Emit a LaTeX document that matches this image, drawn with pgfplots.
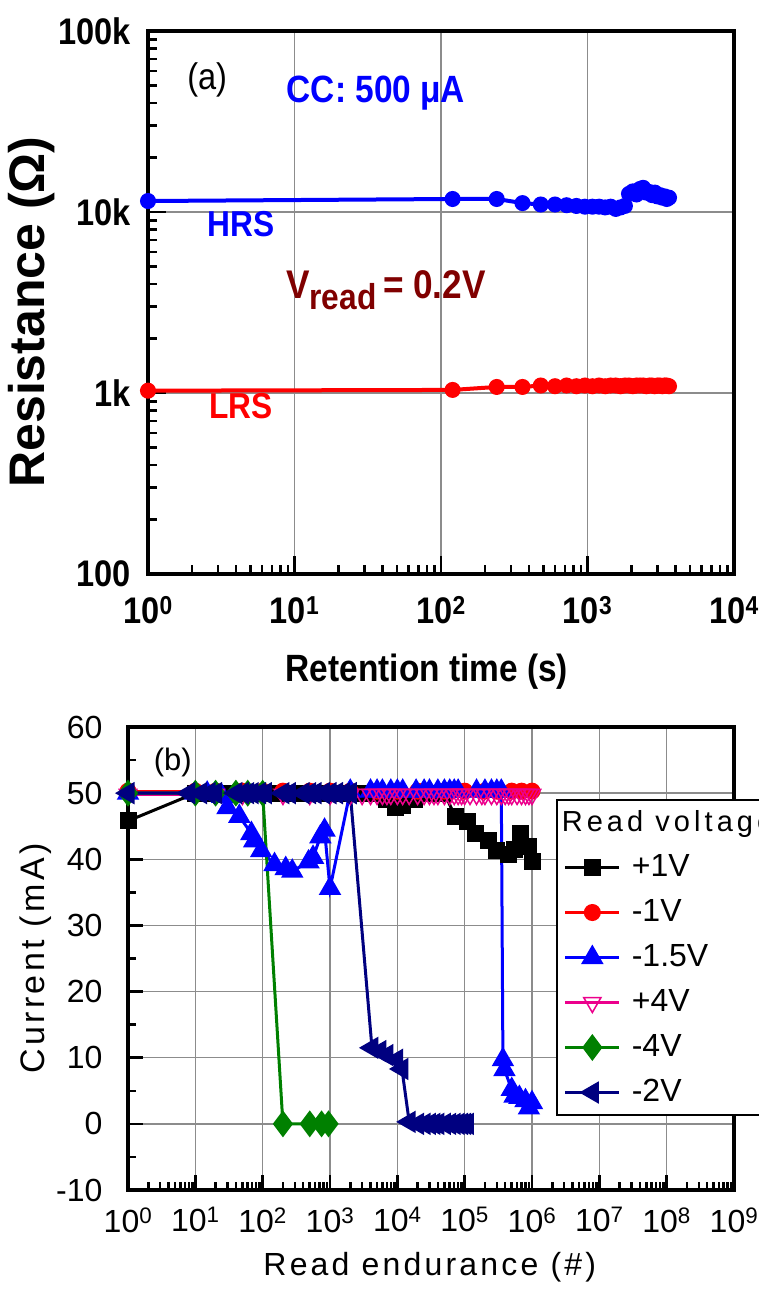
\documentclass[border=0pt]{standalone}
\usepackage{fontspec}
\setmainfont{Liberation Sans}
\newfontfamily\condfont[FakeStretch=0.88]{Liberation Sans}
\newfontfamily\spfont[LetterSpace=10]{Liberation Sans}
\newfontfamily\titlefont[LetterSpace=14]{Liberation Sans}
\usepackage{pgfplots}
\pgfplotsset{compat=1.18}
\definecolor{navyb}{RGB}{0,0,128}
\definecolor{grnb}{RGB}{0,128,0}
\definecolor{maroonb}{RGB}{128,0,0}
\definecolor{gridg}{RGB}{140,140,140}

\begin{document}
\begin{tikzpicture}
\useasboundingbox (0pt,0pt) rectangle (759pt,-1293pt);

% (a) retention
\begin{axis}[
  at={(148pt,-574pt)}, anchor=south west, scale only axis,
  width=586pt, height=543pt,
  xmode=log, ymode=log, xmin=1, xmax=1e4, ymin=100, ymax=1e5,
  xtick={1,10,100,1000,10000},
  xticklabels={10\textsuperscript{0},10\textsuperscript{1},10\textsuperscript{2},10\textsuperscript{3},10\textsuperscript{4}},
  ytick={100,1000,10000,100000}, yticklabels={100,1k,10k,100k},
  minor xtick={2,3,4,5,6,7,8,9,20,30,40,50,60,70,80,90,200,300,400,500,600,700,800,900,2000,3000,4000,5000,6000,7000,8000,9000},
  minor ytick={200,300,400,500,600,700,800,900,2000,3000,4000,5000,6000,7000,8000,9000,20000,30000,40000,50000,60000,70000,80000,90000},
  tick align=inside, tick pos=left, major tick length=18pt, minor tick length=9pt,
  every tick/.append style={black, line width=2.5pt},
  axis line style={line width=4pt},
  grid=major, major grid style={gridg, line width=1.5pt},
  tick label style={font=\condfont\bfseries\fontsize{37}{37}\selectfont},
  xticklabel style={yshift=-19pt},
  yticklabel style={xshift=-14pt},
  xlabel={Retention time (s)},
  ylabel={Resistance (Ω)},
  xlabel style={at={(axis description cs:0.476,-0.180)}, anchor=center, font=\condfont\bfseries\fontsize{38}{38}\selectfont},
  ylabel style={at={(axis description cs:-0.198,0.4825)}, anchor=center, font=\bfseries\fontsize{50}{50}\selectfont},
  clip=false,
]
\addplot[blue, line width=4pt, mark=*, mark size=6pt, mark options={fill=blue}] coordinates {
(1,11500) (120,11800) (240,11800) (360,11200) (480,11000) (600,11000) (720,10900)
(840,10800) (960,10700) (1080,10700) (1200,10700) (1320,10600) (1440,10700) (1560,10400)
(1680,10600) (1800,10800) (1920,12600) (2040,13000) (2160,12500) (2280,13400) (2400,13600)
(2520,12800) (2640,12900) (2760,12400) (2880,12800) (3000,12200) (3120,12400) (3240,12000)
(3360,12200) (3480,11800) (3600,12000)};
\addplot[red, line width=4pt, mark=*, mark size=6pt, mark options={fill=red}] coordinates {
(1,1030) (120,1040) (240,1080) (360,1080) (480,1100) (600,1090) (720,1100) (840,1090)
(960,1100) (1080,1090) (1200,1100) (1320,1090) (1440,1100) (1560,1100) (1680,1090)
(1800,1100) (1920,1100) (2040,1090) (2160,1100) (2280,1100) (2400,1100) (2520,1090)
(2640,1100) (2760,1100) (2880,1090) (3000,1100) (3120,1100) (3240,1090) (3360,1100)
(3480,1100) (3600,1090)};
\node[font=\condfont\fontsize{37}{37}\selectfont] at (axis description cs:0.101,0.910) {(a)};
\node[font=\condfont\bfseries\fontsize{38}{38}\selectfont, text=blue] at (axis description cs:0.389,0.886) {CC: 500 μA};
\node[font=\condfont\bfseries\fontsize{36}{36}\selectfont, text=blue] at (axis description cs:0.159,0.645) {HRS};
\node[font=\condfont\bfseries\fontsize{36}{36}\selectfont, text=red] at (axis description cs:0.159,0.310) {LRS};
\node[font=\condfont\bfseries\fontsize{40}{40}\selectfont, text=maroonb] at (axis description cs:0.406,0.523)
  {V\raisebox{-11pt}{\fontsize{36}{36}\selectfont read}\,= 0.2V};
\end{axis}

% (b) read endurance
\begin{axis}[
  at={(128pt,-1190pt)}, anchor=south west, scale only axis,
  width=606pt, height=463pt,
  xmode=log, xmin=1, xmax=1e9, ymin=-10, ymax=60,
  xtick={1e0,1e1,1e2,1e3,1e4,1e5,1e6,1e7,1e8,1e9},
  xticklabels={10\textsuperscript{0},10\textsuperscript{1},10\textsuperscript{2},10\textsuperscript{3},10\textsuperscript{4},10\textsuperscript{5},10\textsuperscript{6},10\textsuperscript{7},10\textsuperscript{8},10\textsuperscript{9}},
  ytick={-10,0,10,20,30,40,50,60}, yticklabels={-10,0,10,20,30,40,50,60},
  minor ytick={-5,5,15,25,35,45,55},
  minor xtick={2e0,3e0,4e0,5e0,6e0,7e0,8e0,9e0,2e1,3e1,4e1,5e1,6e1,7e1,8e1,9e1,
    2e2,3e2,4e2,5e2,6e2,7e2,8e2,9e2,2e3,3e3,4e3,5e3,6e3,7e3,8e3,9e3,
    2e4,3e4,4e4,5e4,6e4,7e4,8e4,9e4,2e5,3e5,4e5,5e5,6e5,7e5,8e5,9e5,
    2e6,3e6,4e6,5e6,6e6,7e6,8e6,9e6,2e7,3e7,4e7,5e7,6e7,7e7,8e7,9e7,
    2e8,3e8,4e8,5e8,6e8,7e8,8e8,9e8},
  tick align=inside, tick pos=left, major tick length=15pt, minor tick length=8pt,
  every tick/.append style={black, line width=2.5pt},
  axis line style={line width=3.5pt},
  grid=major, major grid style={gridg, line width=1.5pt},
  tick label style={font=\fontsize{32}{32}\selectfont},
  xticklabel style={yshift=-14pt},
  yticklabel style={xshift=-22pt},
  xlabel={Read endurance (\#)},
  ylabel={Current (mA)},
  xlabel style={at={(axis description cs:0.498,-0.166)}, anchor=center, font=\spfont\fontsize{32}{32}\selectfont},
  ylabel style={at={(axis description cs:-0.153,0.5)}, anchor=center, font=\spfont\fontsize{34}{34}\selectfont},
  clip=false,
  legend style={at={(axis description cs:0.706,0.8445)}, anchor=north west,
    draw=black, line width=2pt, inner xsep=7pt, inner ysep=5pt,
    font=\fontsize{32}{32}\selectfont,
    nodes={text height=24pt, text depth=7pt, inner sep=2pt}, row sep=10pt, column sep=9pt},
  legend cell align=left,
  legend image code/.code={\draw[#1, mark repeat=2, mark phase=2] plot coordinates {(0pt,0pt) (27pt,0pt) (54pt,0pt)};},
]
\addlegendimage{empty legend}
\addlegendentry{\hspace{-70pt}{\titlefont\fontsize{29}{29}\selectfont Read voltage}}

\addplot[black, line width=3pt, mark=square*, mark size=7pt, mark options={fill=black}] coordinates {
(1,45.8) (10,50) (15,50) (20,50) (30,50) (50,50) (70,50) (100,50) (150,50) (200,50) (300,50)
(500,50) (700,50) (1000,50) (1500,50) (2000,50) (3000,50) (5000,50) (7000,49) (9500,47.8)
(12000,48.2) (18000,49) (30000,50) (50000,50) (72000,46.5) (110000,45.7) (145000,43.9)
(224000,42.9) (295000,41.3) (447000,40.8) (550000,41.5) (676000,43.9) (891000,42) (1000000,39.7)};
\addlegendentry{+1V}

\addplot[red, line width=3pt, mark=*, mark size=7pt, mark options={fill=red}] coordinates {
(1,50.3) (10,50.3) (20,50.3) (50,50.3) (100,50.3) (200,50.3) (500,50.3) (1000,50.3) (2000,50.3)
(5000,50.3) (10000,50.3) (20000,50.3) (50000,50.3) (100000,50.3) (200000,50.3) (300000,50.3)
(500000,50.3) (700000,50.3) (1000000,50.3)};
\addlegendentry{-1V}

\addplot[blue, line width=3pt, mark=triangle*, mark size=10pt, mark options={fill=blue}] coordinates {
(1,50) (10,50) (15,50) (20,50) (25,49.5) (30,47.8) (45,46.5) (68,43.9) (75,42.8) (95,41.3)
(150,39.2) (220,38.6) (275,38.2) (480,39.6) (560,40.3) (720,43.4) (830,44.4) (1000,35.6)
(2000,50.3) (4000,50.3) (5000,50.3) (6000,50.3) (8000,50.3) (10000,50.3) (12000,50.3)
(19000,50.3) (25000,50.3) (30000,50.3) (40000,50.3) (50000,50.3) (60000,50.3) (70000,50.3)
(80000,50.3) (150000,50.3) (200000,50.3) (250000,50.3) (300000,50.3) (350000,50.3)
(370000,9.7) (390000,8.2) (500000,5.2) (550000,4.2) (650000,4) (800000,3.5) (900000,2.4) (1000000,3.2)};
\addlegendentry{-1.5V}

\addplot[magenta, line width=3pt, mark=triangle, mark size=10pt, mark options={rotate=180, fill=white, line width=1.5pt}] coordinates {
(1,49.8) (10,49.8) (20,49.8) (50,49.8) (100,49.8) (200,49.8) (500,49.8) (1000,49.8) (2000,49.8)
(3000,49.8) (4000,49.8) (5000,49.8) (6000,49.8) (7000,49.8) (8000,49.8) (10000,49.8) (12000,49.8)
(15000,49.8) (20000,49.8) (25000,49.8) (30000,49.8) (35000,49.8) (40000,49.8) (50000,49.8)
(60000,49.8) (70000,49.8) (80000,49.8) (90000,49.8) (100000,49.8) (120000,49.8) (150000,49.8)
(180000,49.8) (200000,49.8) (250000,49.8) (300000,49.8) (350000,49.8) (400000,49.8) (450000,49.8)
(500000,49.8) (600000,49.8) (700000,49.8) (800000,49.8) (900000,49.8) (1000000,49.8)};
\addlegendentry{+4V}

\addplot[grnb, line width=3pt, mark=diamond*, mark size=11pt, mark options={fill=grnb}] coordinates {
(1,50) (10,50) (20,50) (40,50) (60,50) (100,50) (200,0) (500,0) (750,0) (950,0)};
\addlegendentry{-4V}

\addplot[navyb, line width=3pt, mark=triangle*, mark size=10pt, mark options={rotate=90, fill=navyb}] coordinates {
(1,50) (8,50) (12,50) (16,50) (20,50) (40,50) (50,50) (60,50) (70,50) (90,50) (110,50) (200,50)
(250,50) (400,50) (500,50) (600,50) (800,50) (1000,50) (1250,50) (1600,50) (2000,50)
(4200,11.5) (5500,11) (7000,10.4) (9800,9.7) (11700,8.3) (15000,0.3) (20000,0) (25000,0)
(30000,0) (35000,0) (40000,0) (50000,0) (60000,0) (70000,0) (80000,0) (90000,0) (100000,0) (110000,0)};
\addlegendentry{-2V}

\node[font=\fontsize{31}{31}\selectfont] at (axis description cs:0.074,0.924) {(b)};
\end{axis}
\end{tikzpicture}
\end{document}
